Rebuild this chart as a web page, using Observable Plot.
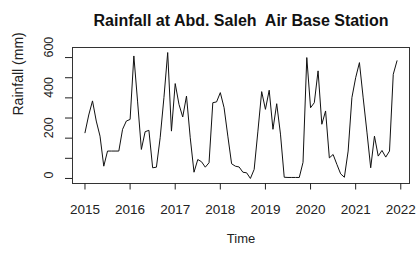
<!DOCTYPE html>
<html>
<head>
<meta charset="utf-8">
<script src="https://cdn.jsdelivr.net/npm/d3@7"></script>
<script src="https://cdn.jsdelivr.net/npm/@observablehq/plot@0.6"></script>
<style>
  html, body { margin: 0; padding: 0; background: #fff; }
  #chart svg { display: block; }
</style>
</head>
<body>
<div id="chart"></div>
<script>
const startYear = 2015;
const rain2015 = [227, 315, 385, 285, 210, 61, 136, 136, 136, 136, 244, 285];
const rain2016 = [293, 608, 380, 144, 232, 239, 53, 56, 202, 401, 625, 235];
const rain2017 = [471, 368, 305, 409, 202, 31, 94, 83, 56, 78, 376, 380];
const rain2018 = [426, 351, 210, 73, 61, 57, 31, 28, 0, 45, 235, 431];
const rain2019 = [343, 438, 244, 371, 220, 6, 5, 5, 5, 5, 80, 600];
const rain2020 = [351, 376, 534, 269, 335, 102, 119, 70, 23, 6, 136, 401];
const rain2021 = [500, 575, 400, 230, 53, 210, 111, 139, 106, 136, 517, 584];

const xTicks = [2015, 2016, 2017, 2018, 2019, 2020, 2021, 2022];
const yTicks = [0, 100, 200, 300, 400, 500, 600];
const yLabels = [0, 200, 400, 600];

const title = "Rainfall at Abd. Saleh  Air Base Station";
const xTitle = "Time";
const yTitle = "Rainfall (mm)";

const allYears = [rain2015, rain2016, rain2017, rain2018, rain2019, rain2020, rain2021];
const series = [];
allYears.forEach((arr, yi) => arr.forEach((v, m) => series.push({t: startYear + yi + m / 12, v})));

const tMin = d3.min(series, d => d.t), tMax = d3.max(series, d => d.t);
const vMin = d3.min(series, d => d.v), vMax = d3.max(series, d => d.v);
const padT = (tMax - tMin) * 0.04, padV = (vMax - vMin) * 0.04;

const chart = Plot.plot({
  width: 416,
  height: 255,
  marginLeft: 72,
  marginRight: 7,
  marginTop: 47,
  marginBottom: 72,
  style: {fontFamily: "'Liberation Sans', Arial, sans-serif", color: "#222", background: "#fff"},
  x: {domain: [tMin - padT, tMax + padT]},
  y: {domain: [vMin - padV, vMax + padV]},
  marks: [
    Plot.frame({stroke: "#333", strokeWidth: 1}),
    Plot.axisX({ticks: xTicks, tickSize: 6.5, tickPadding: 14, fontSize: 13.5, tickFormat: d => `${d}`, label: null}),
    Plot.axisY({ticks: yTicks, tickSize: 7, tickFormat: () => "", label: null}),
    Plot.text(yLabels, {y: d => d, text: d => `${d}`, frameAnchor: "left", dx: -24, rotate: -90, fontSize: 12.5, fill: "#222"}),
    Plot.line(series, {x: "t", y: "v", stroke: "#111", strokeWidth: 1}),
    Plot.text([title], {frameAnchor: "top", dy: -33, fontSize: 16, fontWeight: "bold", fill: "#111"}),
    Plot.text([xTitle], {frameAnchor: "bottom", dy: 59, fontSize: 13, fill: "#222"}),
    Plot.text([yTitle], {frameAnchor: "left", dx: -54, rotate: -90, fontSize: 14, fill: "#222"})
  ]
});
document.getElementById("chart").appendChild(chart);
</script>
</body>
</html>
